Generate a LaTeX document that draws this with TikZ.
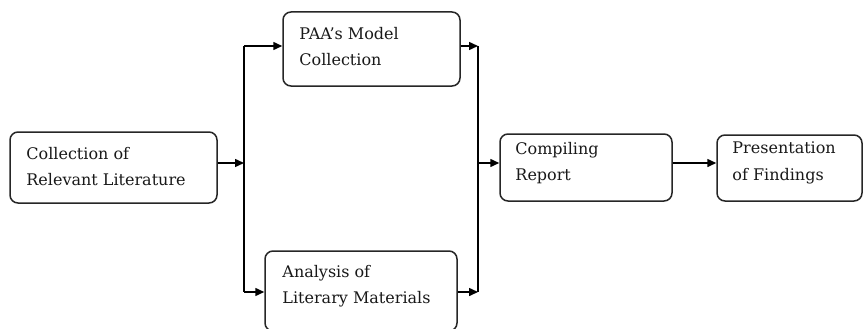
\documentclass[tikz,border=0pt]{standalone}
\usepackage{fontspec}
\setmainfont{DejaVu Serif}
\usetikzlibrary{arrows.meta,calc}
\tikzset{
  box/.style={draw=black!85, line width=1.5pt, rounded corners=8pt, inner sep=0pt, fill=white},
  txt/.style={anchor=north west, inner sep=0pt, align=left, font=\fontsize{16}{26.5}\selectfont, text=black!90},
  conn/.style={line width=1.5pt, draw=black},
  arr/.style={conn, -{Triangle[length=9pt,width=8pt]}},
}
\begin{document}
\begin{tikzpicture}[x=1pt,y=-1pt]
\useasboundingbox (0,0) rectangle (864,329);
\node[box, minimum width=207pt, minimum height=71pt] (b1) at (113.5,167.5) {};
\node[box, minimum width=177pt, minimum height=74pt] (b2) at (371.5,49) {};
\node[box, minimum width=192pt, minimum height=80pt] (b3) at (361,291) {};
\node[box, minimum width=172pt, minimum height=67pt] (b4) at (586,167.5) {};
\node[box, minimum width=145pt, minimum height=66pt] (b5) at (789.5,168) {};
\node[txt] (t1) at ($(b1.north west)+(17,15.5)$) {Collection of\\Relevant Literature};
\node[txt] (t2) at ($(b2.north west)+(17,15.5)$) {PAA's Model\\Collection};
\node[txt] (t3) at ($(b3.north west)+(18,14.5)$) {Analysis of\\Literary Materials};
\node[txt] (t4) at ($(b4.north west)+(16,8.5)$) {Compiling\\Report};
\node[txt] (t5) at ($(b5.north west)+(16,7.5)$) {Presentation\\of Findings};
\coordinate (s1) at (244,163);
\coordinate (st) at (244,46);
\coordinate (sb) at (244,292);
\coordinate (m1) at (478,163);
\coordinate (mt) at (478,46);
\coordinate (mb) at (478,292);
\draw[arr] (b1.east |- s1) -- (s1);
\draw[conn] (st) -- (sb);
\draw[arr] (st) -- (b2.west |- st);
\draw[arr] (sb) -- (b3.west |- sb);
\draw[arr] (b2.east |- mt) -- (mt);
\draw[arr] (b3.east |- mb) -- (mb);
\draw[conn] (mt) -- (mb);
\draw[arr] (m1) -- (b4.west |- m1);
\draw[arr] (b4.east |- m1) -- (b5.west |- m1);
\end{tikzpicture}
\end{document}
